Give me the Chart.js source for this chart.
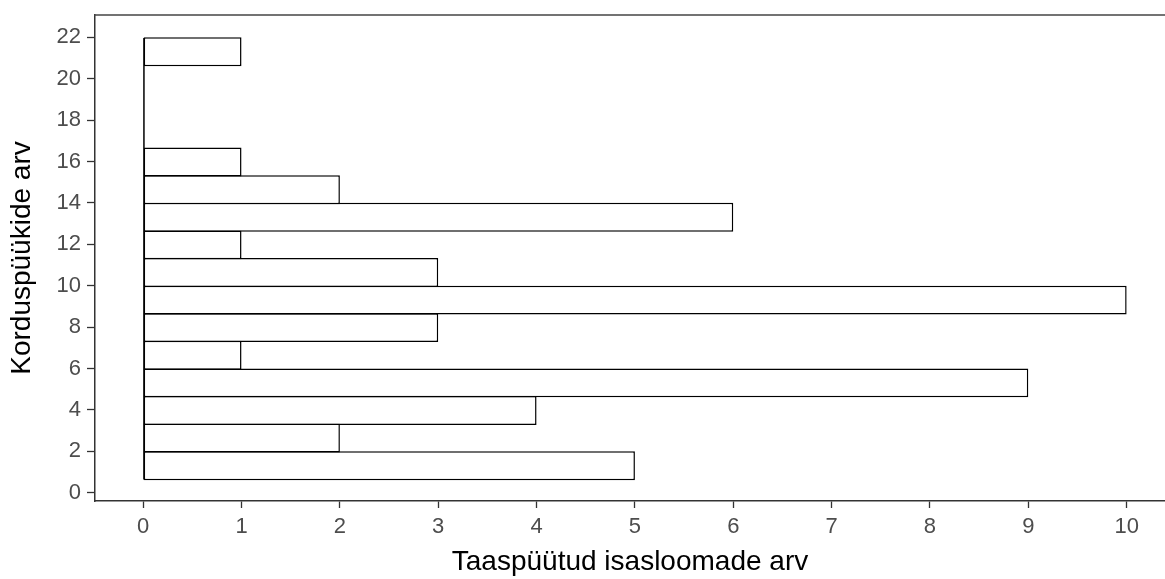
<!DOCTYPE html>
<html>
<head>
<meta charset="utf-8">
<script src="https://cdn.jsdelivr.net/npm/chart.js@4"></script>
<style>
html, body { margin: 0; padding: 0; background: #fff; overflow: hidden; }
</style>
</head>
<body>
<canvas id="histChart" width="1165" height="579"></canvas>
<script>
// Klasside piirid (korduspüükide arv) alt üles, loetud pildilt
const binEdges = [0.64, 1.97, 3.31, 4.64, 5.97, 7.31, 8.64, 9.97, 11.31, 12.64, 13.97, 15.31, 16.64, 17.97, 19.31, 20.64, 21.97];
// Taaspüütud isasloomade arv igas klassis
const counts = [5, 2, 4, 9, 1, 3, 10, 3, 1, 6, 2, 1, 0, 0, 0, 1];
const yTicks = [0, 2, 4, 6, 8, 10, 12, 14, 16, 18, 20, 22];
const xTicks = [0, 1, 2, 3, 4, 5, 6, 7, 8, 9, 10];

const fontFamily = '"Liberation Sans", Arial, sans-serif';

// Tulpade keskpunktid klasside piiridest
const bars = counts.map(function(c, i) {
    return { y: (binEdges[i] + binEdges[i + 1]) / 2, x: c };
});

// Raami ülemine joon ja tulpade vasak serv (ka nulltulpadel)
const raamPlugin = {
    id: 'raam',
    afterDatasetsDraw(chart) {
        const { ctx, chartArea, scales } = chart;
        const x0 = scales.x.getPixelForValue(0) + 0.75;
        ctx.save();
        ctx.strokeStyle = '#000';
        ctx.lineWidth = 1.5;
        ctx.beginPath();
        ctx.moveTo(x0, scales.y.getPixelForValue(binEdges[0]));
        ctx.lineTo(x0, scales.y.getPixelForValue(binEdges[binEdges.length - 1]));
        ctx.stroke();

        ctx.strokeStyle = '#444';
        ctx.lineWidth = 1.5;
        ctx.beginPath();
        ctx.moveTo(chartArea.left - 0.75, chartArea.top);
        ctx.lineTo(chartArea.right, chartArea.top);
        ctx.stroke();
        ctx.restore();
    }
};

const ctx = document.getElementById('histChart').getContext('2d');
const histChart = new Chart(ctx, {
    type: 'bar',
    data: {
        datasets: [{
            data: bars,
            backgroundColor: '#ffffff',
            borderColor: '#000000',
            borderWidth: 1.5,
            borderSkipped: false,
            barPercentage: 1.05,
            categoryPercentage: 1
        }]
    },
    options: {
        indexAxis: 'y',
        responsive: false,
        devicePixelRatio: 1,
        animation: false,
        layout: { padding: { top: 15, right: 0, bottom: 0, left: 0 } },
        plugins: {
            legend: { display: false },
            tooltip: { enabled: false }
        },
        scales: {
            x: {
                type: 'linear',
                position: 'bottom',
                min: -0.49,
                max: 10.39,
                afterBuildTicks: function(s) { s.ticks = xTicks.map(v => ({ value: v })); },
                afterFit: function(s) { s.height = 78; s.paddingLeft = 0; s.paddingRight = 0; },
                grid: { drawOnChartArea: false, drawTicks: true, tickLength: 7, tickColor: '#333', tickWidth: 1.3 },
                border: { display: true, color: '#333', width: 1.5 },
                ticks: { color: '#4d4d4d', font: { family: fontFamily, size: 22 }, padding: 6, maxRotation: 0, autoSkip: false },
                title: {
                    display: true,
                    text: 'Taaspüütud isasloomade arv',
                    color: '#000',
                    font: { family: fontFamily, size: 28 },
                    padding: { top: 0, bottom: 0 }
                }
            },
            y: {
                type: 'linear',
                position: 'left',
                offset: false,
                min: -0.40,
                max: 23.08,
                afterBuildTicks: function(s) { s.ticks = yTicks.map(v => ({ value: v })); },
                afterFit: function(s) { s.width = 95; s.paddingTop = 0; s.paddingBottom = 0; },
                grid: { offset: false, drawOnChartArea: false, drawTicks: true, tickLength: 8, tickColor: '#333', tickWidth: 1.3 },
                border: { display: true, color: '#333', width: 1.5 },
                ticks: { color: '#4d4d4d', font: { family: fontFamily, size: 22 }, padding: 6, autoSkip: false },
                title: {
                    display: true,
                    text: 'Korduspüükide arv',
                    color: '#000',
                    font: { family: fontFamily, size: 28 },
                    padding: { top: 5, bottom: 0 }
                }
            }
        }
    },
    plugins: [raamPlugin]
});
</script>
</body>
</html>
